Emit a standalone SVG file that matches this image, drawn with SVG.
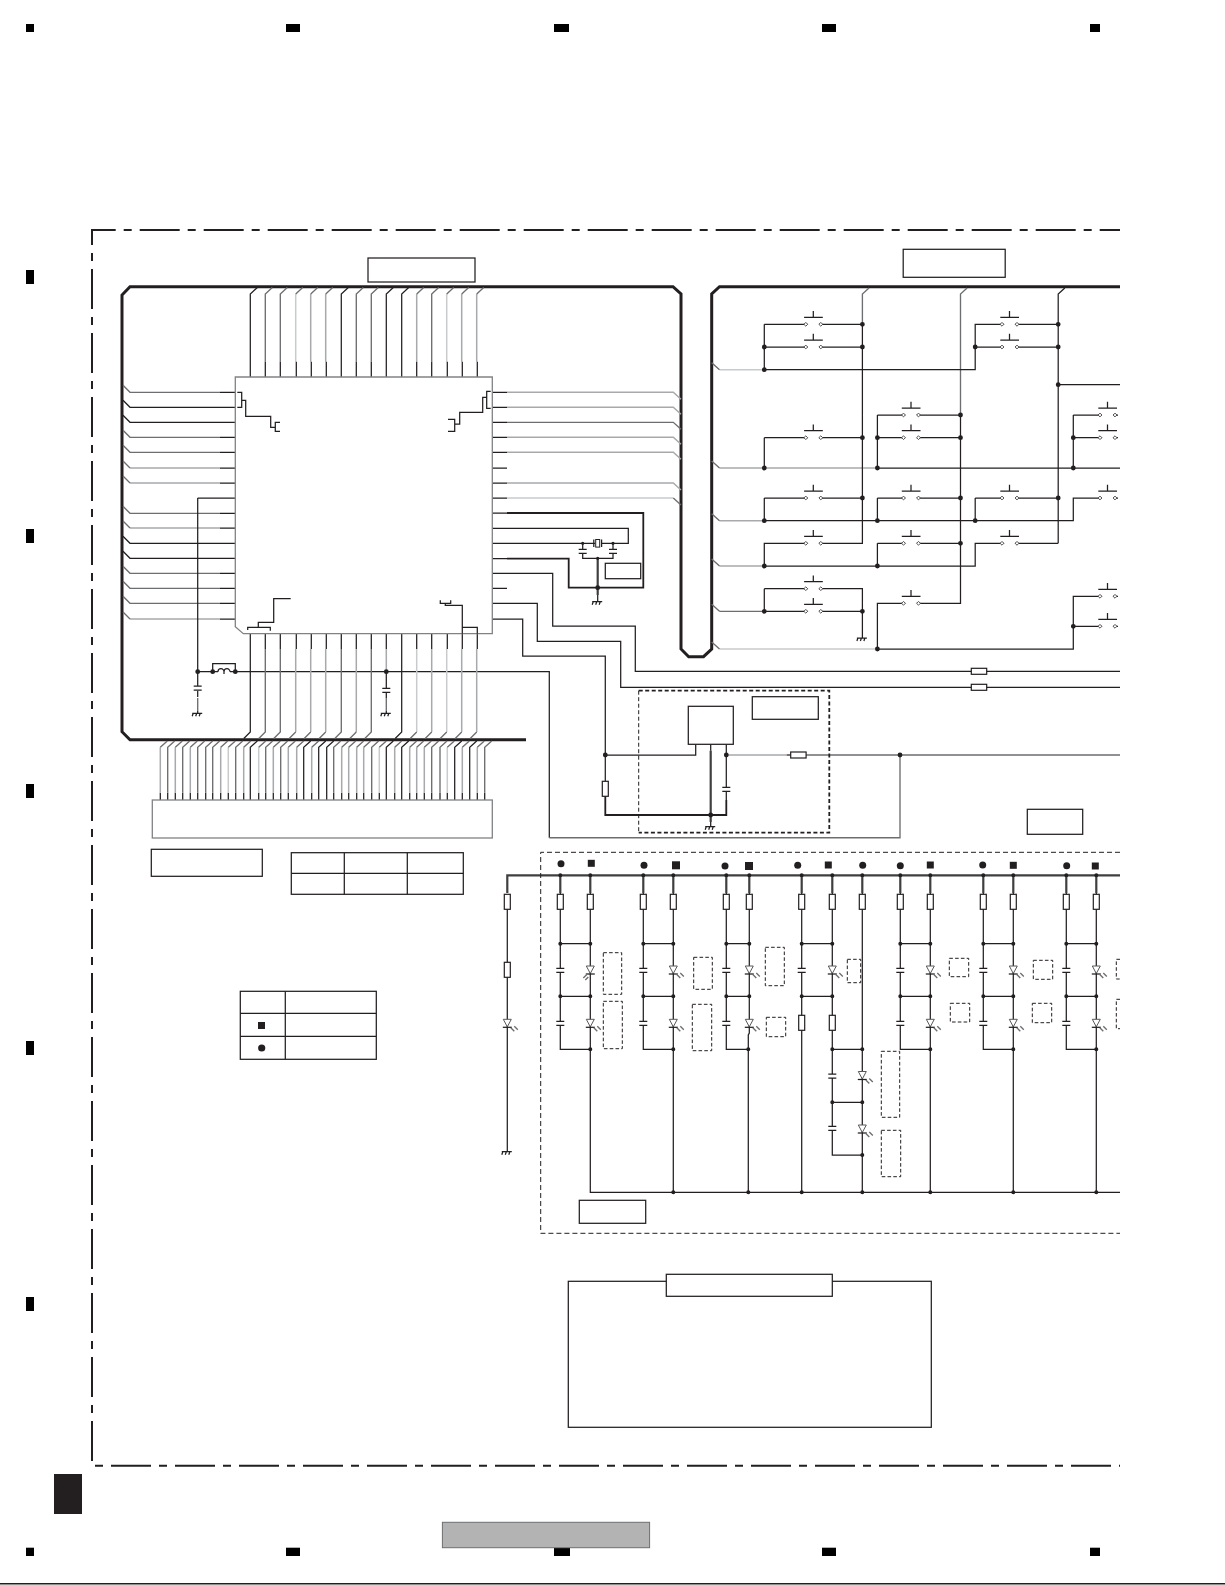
<svg xmlns="http://www.w3.org/2000/svg" width="1225" height="1585" viewBox="0 0 1225 1585">
<style>
path{fill:none}
.k{stroke:#231f20;stroke-width:1.25}
.m{stroke:#6d6e71;stroke-width:1.35}
.g{stroke:#a7a9ac;stroke-width:1.5}
.l{stroke:#c8cacc;stroke-width:1.5}
.t{stroke:#231f20;stroke-width:1.8}
.bus{stroke:#231f20;stroke-width:3}
.pw{stroke:#3f3f41;stroke-width:2.2}
.j{stroke:#231f20;stroke-width:4.8;stroke-linecap:round}
.js{stroke:#231f20;stroke-width:3.2;stroke-linecap:round}
.jm{stroke:#231f20;stroke-width:4;stroke-linecap:round}
.bx{fill:#fff;stroke:#231f20;stroke-width:1.25}
.d{stroke:#231f20;stroke-width:1;stroke-dasharray:3.6 2.2}
.fr{stroke:#231f20;stroke-width:2;stroke-dasharray:40 8 8 8}
.mk{fill:#000}
.sy{fill:#231f20}
</style>
<defs>
<g id="sw"><rect x="1.7" y="-1.4" width="11.6" height="2.8" fill="#fff"/><path class="k" d="M-1.7-7H17M7.500-7V-13.300"/><path d="M0-1.900L1.900 0 0 1.900-1.900 0ZM15-1.900L16.900 0 15 1.900 13.100 0Z" style="fill:#fff;stroke:#414042;stroke-width:.9"/></g>
<rect id="res" x="-3" y="0" width="6" height="15" fill="#fff" stroke="#231f20" stroke-width="1.2"/>
<rect id="resh" x="0" y="-3" width="15.4" height="6" fill="#fff" stroke="#231f20" stroke-width="1.2"/>
<g id="cap"><rect x="-5" y="0" width="10" height="4" fill="#fff"/><path class="k" d="M-4 0H4M-4 4H4"/></g>
<g id="led"><path d="M-4 0H4L0 7.500Z" style="fill:#fff;stroke:#58595b;stroke-width:1"/><path class="k" d="M-4.500 8H4.500"/><path class="m" d="M3.500 8.500L7 12M7 7L10.500 10.500"/></g>
<g id="ledm"><path d="M-4 0H4L0 7.500Z" style="fill:#fff;stroke:#58595b;stroke-width:1"/><path class="k" d="M-4.500 8H4.500"/><path class="m" d="M-3.500 8.500L-7 12M-2 11L-5 14"/></g>
<path id="gnd" class="k" d="M-5.500 0H4.500M-4.500 0L-5.500 3M-1 0L-2 3M2.500 0L1.500 3"/>
</defs>

<g id="frame">
<path class="fr" stroke-dashoffset="15.3" d="M91 230H1120"/>
<path class="fr" stroke-dashoffset="25" d="M92 230V1461"/>
<path class="fr" stroke-dashoffset="48" d="M95 1465.700H1120"/>
</g>
<g id="registration-marks">
<rect class="mk" x="26" y="24" width="8" height="8"/><rect class="mk" x="286" y="24" width="14" height="8"/><rect class="mk" x="554" y="24" width="15" height="8"/><rect class="mk" x="822" y="24" width="14" height="8"/><rect class="mk" x="1090" y="24" width="10" height="8"/>
<rect class="mk" x="26" y="270" width="8" height="14"/><rect class="mk" x="26" y="529" width="8" height="14"/><rect class="mk" x="26" y="784" width="8" height="14"/><rect class="mk" x="26" y="1041" width="8" height="14"/><rect class="mk" x="26" y="1297" width="8" height="14"/>
<rect class="mk" x="26" y="1547.700" width="8" height="8.300"/><rect class="mk" x="286" y="1547.700" width="14" height="8.300"/><rect class="mk" x="554" y="1547.700" width="16" height="8.300"/><rect class="mk" x="822" y="1547.700" width="14" height="8.300"/><rect class="mk" x="1090" y="1547.700" width="10" height="8.300"/>
<rect x="54" y="1474" width="28" height="40" fill="#231f20"/>
<rect x="442.400" y="1522.300" width="207.200" height="25.400" fill="#b3b3b3" stroke="#6d6e71"/>
<rect x="0" y="1583" width="1225" height="1.500" fill="#231f20"/>
</g>

<g id="connectors">
<path class="bus" d="M526 739.700H130L122 731.700V295L130 286.700H673L681 294V649L688.700 656.700H703.500L711.700 649V294L719.500 286.700H1120"/>

<!-- top pins -->
<path class="k" d="M250.300 377V294l7-6.500M386.300 377V294l7-6.500M401.700 377V294l7-6.500M341.300 377V294l7-6.500"/>
<path class="m" d="M265.300 361.700V294l7-6.500M280.300 361.700V294l7-6.500M356.300 361.700V294l7-6.500M371.300 361.700V294l7-6.500M431.700 361.700V294l7-6.500"/>
<path class="g" d="M310.700 361.700V294M325.700 361.700V294M416.700 361.700V294M461.700 361.700V294M476.700 361.700V294"/>
<path class="l" d="M295.700 361.700V294M446.700 361.700V294"/>
<path class="m" d="M295.700 294l7-6.500M310.700 294l7-6.500M325.700 294l7-6.500M416.700 294l7-6.500M446.700 294l7-6.500M461.700 294l7-6.500M476.700 294l7-6.500"/>
<path class="k" d="M265.300 361.700V377M280.300 361.700V377M296.300 361.700V377M311.300 361.700V377M326.300 361.700V377M356.300 361.700V377M371.300 361.700V377M416.700 361.700V377M431.700 361.700V377M447.300 361.700V377M462.300 361.700V377M477.300 361.700V377"/>

<!-- left pins -->
<path class="k" d="M220 392.300H235.300M123 400.300L130 407.300H235.300M123 415.300L130 422.300H235.300M220 437.300H235.300M220 452.300H235.300M220 468H235.300M220 483H235.300M197.700 498H235.300M220 513.300H235.300M220 528H235.300M123 536.300L130 543.300H235.300M123 551.300L130 558.300H235.300M220 573.300H235.300M220 588.300H235.300M220 603.300H235.300M220 619H235.300"/>
<path class="m" d="M123 385.300L130 392.300H220M123 430.300L130 437.300H220M123 445.300L130 452.300H220M123 506.300L130 513.300H220M123 566.300L130 573.300H220M123 581.300L130 588.300H220M123 596.300L130 603.300H220"/>
<path class="g" d="M130 468H220M130 483H220M130 528H220M130 619H220"/>
<path class="m" d="M123 461L130 468M123 476L130 483M123 521L130 528M123 612L130 619"/>

<!-- chip power -->
<path class="k" d="M197.700 498V686M197.700 690.700V697M212.700 671.700V663.700H235.300V671.700M197.700 671.700H218M230 671.700H549.300V837.700"/>
<path class="k" d="M218 671.700a3 3 0 0 1 6 0a3 3 0 0 1 6 0M224 671.700V674"/>
<path class="m" d="M197.700 698V711M386.300 698V711"/>
<path class="k" d="M197.700 711V713.300M386.300 633.700V649M386.300 671.700V688M386.300 692.300V698M386.300 711V713.300"/>
<path class="g" d="M386.300 649V671.700"/>

<!-- bottom pins -->
<path class="k" d="M250.300 633.700V732l-6.500 6.500M265.300 633.700V649M280.300 633.700V649M296.300 633.700V649M311.300 633.700V649M326.300 633.700V649M341.300 633.700V649M356.300 633.700V649M371.300 633.700V649M401.700 633.700V732l-6.500 6.500M416.700 633.700V649M431.700 633.700V649M447.300 633.700V649M462.300 633.700V649M477.300 633.700V649"/>
<path class="m" d="M265.300 649V732l-6.500 6.500M280.300 649V732l-6.500 6.500M341.300 649V732l-6.500 6.500M371.300 649V732l-6.500 6.500"/>
<path class="g" d="M295.700 649V732M310.700 649V732M325.700 649V732M356.300 649V732M431.700 649V732M461.700 649V732M476.700 649V732"/>
<path class="l" d="M416.700 649V732M446.700 649V732"/>
<path class="m" d="M295.700 732l-6.500 6.500M310.700 732l-6.500 6.500M325.700 732l-6.500 6.500M356.300 732l-6.500 6.500M416.700 732l-6.500 6.500M431.700 732l-6.500 6.500M446.700 732l-6.500 6.500M461.700 732l-6.500 6.500M476.700 732l-6.500 6.500"/>

<!-- 44-pin connector leads -->
<path class="k" d="M160.300 800V792.700M167.700 800V792.700M175.300 800V792.700M182.700 800V792.700M190.300 800V792.700M197.700 800V792.700M205.700 800V792.700M212.700 800V792.700M220.700 800V792.700M228.300 800V792.700M235.700 800V792.700M243.700 800V792.700M258.700 800V792.700M265.700 800V792.700M273.300 800V792.700M280.700 800V792.700M288.300 800V792.700M296.700 800V792.700M311.700 800V792.700M333.700 800V792.700M341.700 800V792.700M348.700 800V792.700M356.700 800V792.700M363.700 800V792.700M371.700 800V792.700M379.300 800V792.700M394.700 800V792.700M409.700 800V792.700M416.700 800V792.700M424.300 800V792.700M431.700 800V792.700M440 800V792.700M447.300 800V792.700M462.300 800V792.700M477.300 800V792.700M484.700 800V792.700"/>
<path class="k" d="M250.300 800V747.300l7-6.300M303.700 800V747.300l7-6.300M318.700 800V747.300l7-6.300M326.700 800V747.300l7-6.300M386.300 800V747.300l7-6.300M401.700 800V747.300l7-6.300M454.700 800V747.300l7-6.300M469.700 800V747.300l7-6.300"/>
<path class="m" d="M167.700 792.700V747.300l7-6.300M182.700 792.700V747.300l7-6.300M197.700 792.700V747.300l7-6.300M205.700 792.700V747.300l7-6.300M212.700 792.700V747.300l7-6.300M235.700 792.700V747.300l7-6.300M265.700 792.700V747.300l7-6.300M280.700 792.700V747.300l7-6.300M333.700 792.700V747.300l7-6.300M371.700 792.700V747.300l7-6.300M431.700 792.700V747.300l7-6.300M440 792.700V747.300l7-6.300M484.700 792.700V747.300l7-6.300"/>
<path class="g" d="M160.300 792.700V747.300M175.300 792.700V747.300M190.300 792.700V747.300M220.700 792.700V747.300M243.700 792.700V747.300M273.300 792.700V747.300M288.300 792.700V747.300M296.700 792.700V747.300M311.700 792.700V747.300M341.700 792.700V747.300M348.700 792.700V747.300M356.700 792.700V747.300M363.700 792.700V747.300M394.700 792.700V747.300M409.700 792.700V747.300M416.700 792.700V747.300M424.300 792.700V747.300M462.300 792.700V747.300M477.300 792.700V747.300"/>
<path class="l" d="M228.300 792.700V747.300M258.700 792.700V747.300M379.300 792.700V747.300M447.300 792.700V747.300"/>
<path class="m" d="M160.300 747.300l7-6.300M175.300 747.300l7-6.300M190.300 747.300l7-6.300M220.700 747.300l7-6.300M228.300 747.300l7-6.300M243.700 747.300l7-6.300M258.700 747.300l7-6.300M273.300 747.300l7-6.300M288.300 747.300l7-6.300M296.700 747.300l7-6.300M311.700 747.300l7-6.300M341.700 747.300l7-6.300M348.700 747.300l7-6.300M356.700 747.300l7-6.300M363.700 747.300l7-6.300M379.300 747.300l7-6.300M394.700 747.300l7-6.300M409.700 747.300l7-6.300M416.700 747.300l7-6.300M424.300 747.300l7-6.300M447.300 747.300l7-6.300M462.300 747.300l7-6.300M477.300 747.300l7-6.300"/>

<!-- right pins -->
<path class="k" d="M492.300 392.300H507M492.300 407.300H507M492.300 422.300H507M492.300 437.300H507M492.300 452.300H507M492.300 468H507M492.300 483H507M492.300 498H507M492.300 588.300H507"/>
<path class="g" d="M507 392.300H673.300l7.700 7M507 407.300H673.300l7.700 7M507 437.300H673.300l7.700 7M507 452.300H673.300l7.700 7M507 483H673.300l7.700 7"/>
<path class="m" d="M507 422.300H673.300l7.700 7"/>
<path class="l" d="M507 498H673.300"/><path class="m" d="M673.300 498l7.700 7"/>
<path class="t" d="M507 513H643.300V587.700H568.700V558.700H507"/>
<path class="k" d="M492.300 513H507M492.300 558.700H507M492.300 528.300H628.300V543.300H492.300M582.700 543.300V549.300M582.700 553.700V558.300H613V553.700M613 543.300V549.300"/>
<path class="pw" d="M597.700 558.300V595"/>
<path class="k" d="M597.700 595V601.700"/>
<path class="k" d="M492.300 573.300H552.700V626H635.300V671.300H1120M492.300 603.300H537.300V641.300H620.700V687.300H1120M492.300 619H522.700V656H605.300V781"/>
<path class="t" d="M605.300 796.300V815H726.300V800"/>
<path class="k" d="M605.300 755H695.700V744.300M726.300 744.300V787.300M726.300 791V800"/>
<path class="pw" d="M710.700 750.700V822"/>
<path class="k" d="M710.700 744.300V750.700M710.700 822V826.700"/>
<path class="g" d="M726.300 755H786.700"/>
<path class="k" d="M786.700 755H790.700"/>
<path class="m" d="M805.700 755H1120M900 755V837.700H549.300"/>

<!-- switch matrix -->
<path class="m" d="M862.400 324.300V294l6.600-6M960.500 415V294l6.600-6"/>
<path class="k" d="M1058.200 543.300V294l6.600-6"/>
<path class="l" d="M719.500 369.700H764.300M719.500 649H877.400"/>
<path class="g" d="M719.500 468H877.400M719.500 520.700H764.300M719.500 566H764.300"/>
<path class="m" d="M719.500 611.300H764.300M711.700 362.700L719.500 369.700M711.700 461L719.500 468M711.700 513.700L719.500 520.700M711.700 559L719.500 566M711.700 604.300L719.500 611.300M711.700 642L719.500 649"/>
<path class="k" d="M764.300 324.300H862.400M764.300 347H862.400M764.300 324.300V369.700H975.200V324.300H1058.200M975.200 347H1058.200M862.400 324.300V543.300H764.300V566H975.200V543.300H1058.200M764.300 437.700H862.400M764.300 437.700V468M764.300 498H862.400M764.300 498V520.700H1073.300V498H1118M877.400 415H960.500M877.400 437.700H960.500M877.400 415V468H1120M877.400 498H960.500M877.400 498V520.700M877.400 543.300H960.500M877.400 543.300V566M975.200 498H1058.200M975.200 498V520.700M960.500 415V603.300H877.400V649H1073.300V596.300H1118M1073.300 626.300H1118M1058.200 384.700H1120M1073.300 415H1118M1073.300 437.700H1118M1073.300 415V468M764.300 588.700H862.400V638M764.300 611.300H862.400M764.300 588.700V611.300"/>

<!-- LED section -->
<path class="pw" d="M507.300 893V875.300H1120"/>
<path class="pw" d="M560.300 875.300V893M590.300 875.300V893M643.300 875.300V893M673.300 875.300V893M726.300 875.300V893M749.300 875.300V893M801.700 875.300V893M832.300 875.300V893M862.300 875.300V893M900.300 875.300V893M930.300 875.300V893M983.300 875.300V893M1013.300 875.300V893M1066.300 875.300V893M1096.300 875.300V893"/>
<path class="k" d="M507.300 909V1151.700"/>
<path class="k" d="M560.300 893V1049.300H590.300M560.300 943.700H590.300M560.300 996.300H590.300M590.300 893V1192.300H1120M643.300 893V1049.300H673.300M643.300 943.700H673.300M643.300 996.300H673.300M673.300 893V1192.300M726.300 893V1049.300H749.300M726.300 943.700H749.300M726.300 996.300H749.300M749.300 893V1033L748.300 1035V1192.300M801.700 893V1192.300M801.700 943.700H832.300M801.700 996.300H832.300M832.300 893V1155H862.300M832.300 1049.300H862.300M832.300 1102.300H862.300M862.300 893V1192.300M900.300 893V1049.300H930.300M900.300 943.700H930.300M900.300 996.300H930.300M930.300 893V1192.300M983.300 893V1049.300H1013.300M983.300 943.700H1013.300M983.300 996.300H1013.300M1013.300 893V1192.300M1066.300 893V1049.300H1096.300M1066.300 943.700H1096.300M1066.300 996.300H1096.300M1096.300 893V1192.300"/>

<!-- junctions -->
<path class="j" d="M197.700 671.700h0M212.700 671.700h0M235.300 671.700h0M386.300 671.700h0M597.700 587.700h0M605.300 755h0M726.300 755h0M710.700 815h0M900 755h0"/>
<path class="js" d="M582.700 543.300h0M613 543.300h0M597.700 558.300h0"/>
<path class="j" d="M764.300 347h0M764.300 369.700h0M862.400 324.300h0M862.400 347h0M764.300 468h0M862.400 437.700h0M764.300 520.700h0M862.400 498h0M764.300 566h0M764.300 611.300h0M862.400 611.300h0M877.400 437.700h0M877.400 468h0M960.500 415h0M960.500 437.700h0M877.400 520.700h0M960.500 498h0M877.400 566h0M960.500 543.300h0M877.400 649h0M975.200 347h0M1058.200 324.300h0M1058.200 347h0M975.200 520.700h0M1058.200 498h0M1058.200 384.700h0M1073.300 437.700h0M1073.300 468h0M1073.300 626.300h0"/>
<path class="jm" d="M560.300 875.300h0M590.300 875.300h0M643.300 875.300h0M673.300 875.300h0M726.300 875.300h0M749.300 875.300h0M801.700 875.300h0M832.300 875.300h0M862.300 875.300h0M900.300 875.300h0M930.300 875.300h0M983.300 875.300h0M1013.300 875.300h0M1066.300 875.300h0M1096.300 875.300h0M560.300 943.700h0M590.300 943.700h0M643.300 943.700h0M673.300 943.700h0M726.300 943.700h0M749.300 943.700h0M801.700 943.700h0M832.300 943.700h0M900.300 943.700h0M930.300 943.700h0M983.300 943.700h0M1013.300 943.700h0M1066.300 943.700h0M1096.300 943.700h0M560.300 996.300h0M590.300 996.300h0M643.300 996.300h0M673.300 996.300h0M726.300 996.300h0M749.300 996.300h0M801.700 996.300h0M832.300 996.300h0M900.300 996.300h0M930.300 996.300h0M983.300 996.300h0M1013.300 996.300h0M1066.300 996.300h0M1096.300 996.300h0M590.300 1049.300h0M673.300 1049.300h0M748.300 1049.300h0M832.300 1049.300h0M862.300 1049.300h0M930.300 1049.300h0M1013.300 1049.300h0M1096.300 1049.300h0M832.300 1102.300h0M862.300 1102.300h0M862.300 1155h0M673.300 1192.300h0M748.300 1192.300h0M801.700 1192.300h0M862.300 1192.300h0M930.300 1192.300h0M1013.300 1192.300h0M1096.300 1192.300h0"/>
</g>

<g id="ic-main">
<path d="M235.300 377H492.300V633.700H243.300L235.300 626.700Z" style="fill:#fff;stroke:#808285;stroke-width:1.300"/>
<path class="k" d="M237.300 392.300H241.700V407.300H237.300M241.700 400.300H245.700V416.300H270.700V427.300H275.300M280 422.300H275.300V431.300H280M490.700 391.300H486.700V408.300H490.700M486.700 397.300H482.700V412.300H459.700V424H454.700M448 419.300H454.700V431.300H448"/>
<path class="k" d="M247.700 630V627.300H270.300V630.700M258.300 627.300V622.300H273.700V598.700H290.700M440.300 600.300V603.300H450.700V600.300M445.300 603.300V605.300H462.300V633.700M462.300 627.300H477.300V633.700"/>
</g>
<g id="connector-44"><rect x="152.300" y="800" width="340" height="38" fill="#fff" stroke="#808285" stroke-width="1.300"/></g>

<g id="label-1"><rect class="bx" x="368" y="258" width="107" height="24"/></g>
<g id="label-2"><rect class="bx" x="903.200" y="249.300" width="102" height="28"/></g>
<g id="label-3"><rect class="bx" x="151.300" y="849.300" width="111" height="27"/></g>
<g id="label-4"><rect class="bx" x="605.300" y="563.300" width="35.400" height="15.400"/></g>
<g id="label-5"><rect class="bx" x="752.300" y="696.700" width="66" height="22.600"/></g>
<g id="label-6"><rect class="bx" x="1027.300" y="809.300" width="55.400" height="25"/></g>
<g id="label-7"><rect class="bx" x="579.300" y="1200.300" width="66.400" height="23"/></g>
<g id="note-box"><rect class="bx" x="568.300" y="1281.300" width="363" height="146"/><rect class="bx" x="666.300" y="1274.300" width="166" height="22"/></g>

<g id="table-1"><rect class="bx" x="291.300" y="852.700" width="172" height="41.600"/><path class="k" d="M291.300 873.300H463.300M344.300 852.700V894.300M407.300 852.700V894.300"/></g>
<g id="table-2"><rect class="bx" x="240.300" y="991.300" width="136" height="68"/><path class="k" d="M240.300 1013.300H376.300M240.300 1036.300H376.300M285.300 991.300V1059.300"/><rect class="sy" x="258" y="1022" width="7" height="7"/><circle class="sy" cx="261.700" cy="1048" r="3.600"/></g>

<g id="ic-reg"><rect class="bx" x="688.300" y="706.300" width="45" height="38"/></g>
<g id="reg-zone"><path class="d" style="stroke-dasharray:4 2.500" d="M638.700 690.700V832.700"/><path class="t" style="stroke-dasharray:4 2.500" d="M638.700 690.700H829.300V832.700H638.700"/></g>
<g id="led-zone"><path class="k" style="stroke-dasharray:5 3;stroke-width:1" d="M1120 852.300H540.700V1233.300H1120"/></g>

<g id="l1"><use href="#cap" x="197.700" y="686"/></g>
<g id="l2"><use href="#cap" x="386.300" y="688.300"/></g>
<g id="l3"><use href="#cap" x="726.300" y="787.300"/></g>
<g id="l4"><use href="#cap" x="582.700" y="549.300"/></g>
<g id="l5"><use href="#cap" x="613" y="549.300"/></g>
<g id="xtal"><rect x="595" y="540" width="6" height="6.600" fill="#fff"/><rect x="595.700" y="539.500" width="4" height="7.600" fill="#fff" stroke="#231f20"/><path class="k" d="M593.800 539.500V547M601.600 539.500V547"/></g>
<g id="gnd1"><use href="#gnd" x="197.700" y="713.300"/></g>
<g id="gnd2"><use href="#gnd" x="386.300" y="713.300"/></g>
<g id="gnd3"><use href="#gnd" x="597.700" y="601.700"/></g>
<g id="gnd4"><use href="#gnd" x="710.700" y="826.700"/></g>
<g id="gnd5"><use href="#gnd" x="862.400" y="638"/></g>
<g id="gnd6"><use href="#gnd" x="507.300" y="1151.700"/></g>
<g id="rh1"><use href="#resh" x="971.300" y="671.300"/></g>
<g id="rh2"><use href="#resh" x="971.300" y="687.300"/></g>
<g id="rh3"><use href="#resh" x="790.700" y="755"/></g>
<g id="rv0"><use href="#res" x="605.300" y="781.300"/></g>

<g id="sa1"><use href="#sw" x="805.800" y="324.300"/></g>
<g id="sa2"><use href="#sw" x="805.800" y="347"/></g>
<g id="sa3"><use href="#sw" x="805.800" y="437.700"/></g>
<g id="sa4"><use href="#sw" x="805.800" y="498"/></g>
<g id="sa5"><use href="#sw" x="805.800" y="543.300"/></g>
<g id="sa6"><use href="#sw" x="805.800" y="588.700"/></g>
<g id="sa7"><use href="#sw" x="805.800" y="611.300"/></g>
<g id="sb1"><use href="#sw" x="903.500" y="415"/></g>
<g id="sb2"><use href="#sw" x="903.500" y="437.700"/></g>
<g id="sb3"><use href="#sw" x="903.500" y="498"/></g>
<g id="sb4"><use href="#sw" x="903.500" y="543.300"/></g>
<g id="sb5"><use href="#sw" x="903.500" y="603.300"/></g>
<g id="sc1"><use href="#sw" x="1002" y="324.300"/></g>
<g id="sc2"><use href="#sw" x="1002" y="347"/></g>
<g id="sc3"><use href="#sw" x="1002" y="498"/></g>
<g id="sc4"><use href="#sw" x="1002" y="543.300"/></g>
<g id="sd1"><use href="#sw" x="1100" y="415"/></g>
<g id="sd2"><use href="#sw" x="1100" y="437.700"/></g>
<g id="sd3"><use href="#sw" x="1100" y="498"/></g>
<g id="sd4"><use href="#sw" x="1100" y="596.300"/></g>
<g id="sd5"><use href="#sw" x="1100" y="626.300"/></g>

<g id="r1"><use href="#res" x="507.300" y="894.300"/></g>
<g id="r2"><use href="#res" x="507.300" y="962.300"/></g>
<g id="r3"><use href="#res" x="560.300" y="894.300"/></g>
<g id="r4"><use href="#res" x="590.300" y="894.300"/></g>
<g id="r5"><use href="#res" x="643.300" y="894.300"/></g>
<g id="r6"><use href="#res" x="673.300" y="894.300"/></g>
<g id="r7"><use href="#res" x="726.300" y="894.300"/></g>
<g id="r8"><use href="#res" x="749.300" y="894.300"/></g>
<g id="r9"><use href="#res" x="801.700" y="894.300"/></g>
<g id="r10"><use href="#res" x="832.300" y="894.300"/></g>
<g id="r11"><use href="#res" x="862.300" y="894.300"/></g>
<g id="r12"><use href="#res" x="900.300" y="894.300"/></g>
<g id="r13"><use href="#res" x="930.300" y="894.300"/></g>
<g id="r14"><use href="#res" x="983.300" y="894.300"/></g>
<g id="r15"><use href="#res" x="1013.300" y="894.300"/></g>
<g id="r16"><use href="#res" x="1066.300" y="894.300"/></g>
<g id="r17"><use href="#res" x="1096.300" y="894.300"/></g>
<g id="r18"><use href="#res" x="801.700" y="1015.300"/></g>
<g id="r19"><use href="#res" x="832.300" y="1015.300"/></g>

<g id="c1"><use href="#cap" x="560.300" y="968.300"/></g>
<g id="c2"><use href="#cap" x="560.300" y="1021.300"/></g>
<g id="c3"><use href="#cap" x="643.300" y="968.300"/></g>
<g id="c4"><use href="#cap" x="643.300" y="1021.300"/></g>
<g id="c5"><use href="#cap" x="726.300" y="968.300"/></g>
<g id="c6"><use href="#cap" x="726.300" y="1021.300"/></g>
<g id="c7"><use href="#cap" x="801.700" y="968.300"/></g>
<g id="c8"><use href="#cap" x="832.300" y="1074"/></g>
<g id="c9"><use href="#cap" x="832.300" y="1126.300"/></g>
<g id="c10"><use href="#cap" x="900.300" y="968.300"/></g>
<g id="c11"><use href="#cap" x="900.300" y="1021.300"/></g>
<g id="c12"><use href="#cap" x="983.300" y="968.300"/></g>
<g id="c13"><use href="#cap" x="983.300" y="1021.300"/></g>
<g id="c14"><use href="#cap" x="1066.300" y="968.300"/></g>
<g id="c15"><use href="#cap" x="1066.300" y="1021.300"/></g>

<g id="d0"><use href="#led" x="507.300" y="1019.300"/></g>
<g id="d1"><use href="#ledm" x="590.300" y="966"/></g>
<g id="d2"><use href="#led" x="590.300" y="1019.300"/></g>
<g id="d3"><use href="#led" x="673.300" y="966"/></g>
<g id="d4"><use href="#led" x="673.300" y="1019.300"/></g>
<g id="d5"><use href="#led" x="749.300" y="966"/></g>
<g id="d6"><use href="#led" x="749.300" y="1019.300"/></g>
<g id="d7"><use href="#led" x="832.300" y="966"/></g>
<g id="d8"><use href="#led" x="862.300" y="1071.500"/></g>
<g id="d9"><use href="#led" x="862.300" y="1125"/></g>
<g id="d10"><use href="#led" x="930.300" y="966"/></g>
<g id="d11"><use href="#led" x="930.300" y="1019.300"/></g>
<g id="d12"><use href="#led" x="1013.300" y="966"/></g>
<g id="d13"><use href="#led" x="1013.300" y="1019.300"/></g>
<g id="d14"><use href="#led" x="1096.300" y="966"/></g>
<g id="d15"><use href="#led" x="1096.300" y="1019.300"/></g>

<g id="led-marks">
<circle class="sy" cx="561" cy="863.700" r="3.500"/><rect class="sy" x="587.800" y="859.800" width="7" height="7"/>
<circle class="sy" cx="644" cy="865.300" r="3.500"/><rect class="sy" x="672" y="861.300" width="8" height="8"/>
<circle class="sy" cx="725" cy="866" r="3.500"/><rect class="sy" x="745" y="862" width="8" height="8"/>
<circle class="sy" cx="797.700" cy="865.300" r="3.500"/><rect class="sy" x="824.800" y="861.500" width="7" height="7"/>
<circle class="sy" cx="862.700" cy="865.300" r="3.500"/>
<circle class="sy" cx="900.300" cy="865.700" r="3.500"/><rect class="sy" x="926.800" y="861.500" width="7" height="7"/>
<circle class="sy" cx="982.700" cy="865" r="3.500"/><rect class="sy" x="1009.800" y="861.800" width="7" height="7"/>
<circle class="sy" cx="1066.700" cy="865.700" r="3.500"/><rect class="sy" x="1091.800" y="862.500" width="7" height="7"/>
</g>
<g id="led-dashed">
<path class="d" d="M603.300 952.700H621.700V994.300H603.300ZM603.300 1001.300H622.300V1048.700H603.300ZM693.700 957.300H712.300V989.300H693.700ZM692.300 1004.300H711.700V1050.700H692.300ZM765.300 947.300H784.300V985.700H765.300ZM766.300 1017.300H785.700V1036.700H766.300ZM847.300 959.300H860.700V982.700H847.300ZM881.300 1051.300H899.700V1117.300H881.300ZM881.300 1130.300H900.700V1176.700H881.300ZM949.300 958.300H968.700V976.700H949.300ZM950.300 1003.300H969.700V1022H950.300ZM1033.300 960.300H1052.700V979.300H1033.300ZM1032.300 1003.300H1051.700V1022.700H1032.300ZM1120 959.300H1116.300V979H1120M1120 999.300H1116.300V1028.700H1120"/>
</g>
</svg>
